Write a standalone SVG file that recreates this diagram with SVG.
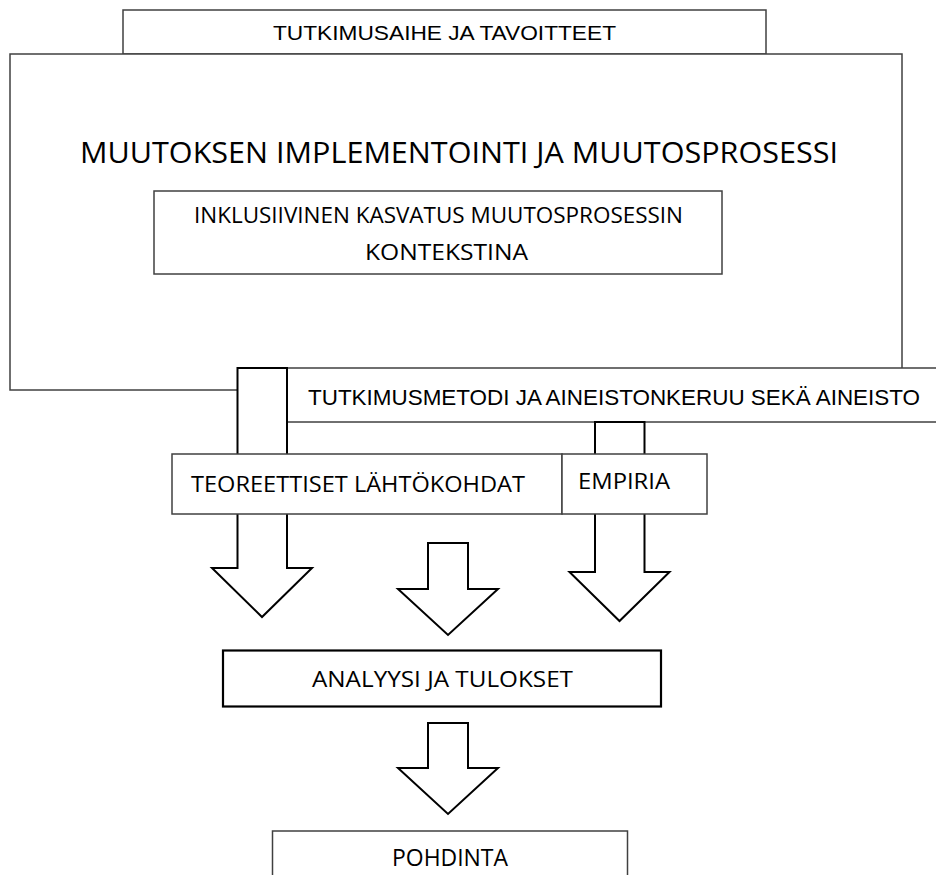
<svg xmlns="http://www.w3.org/2000/svg" width="936" height="875" viewBox="0 0 936 875">
<style>
  .box { fill: #ffffff; stroke: #404040; stroke-width: 1.5; }
  .thick { fill: #ffffff; stroke: #000000; stroke-width: 2.2; }
  .arrow { fill: #ffffff; stroke: #000000; stroke-width: 2; stroke-linejoin: miter; }
  .t { font-family: "Open Sans", "Liberation Sans", sans-serif; fill: #000000; }
  .n { font-family: "Liberation Sans Narrow", "Liberation Sans", sans-serif; fill: #000000; }
</style>
<rect width="936" height="875" fill="#ffffff"/>
<g id="node-tutkimusaihe">
  <rect class="box" x="123" y="10" width="643" height="44"/>
  <text class="n" x="273" y="39.5" font-size="19.5" textLength="343" lengthAdjust="spacingAndGlyphs">TUTKIMUSAIHE JA TAVOITTEET</text>
</g>
<g id="node-muutos">
  <rect class="box" x="10" y="54" width="892" height="336"/>
  <text class="t" x="80" y="162.5" font-size="28.5" textLength="758" lengthAdjust="spacingAndGlyphs">MUUTOKSEN IMPLEMENTOINTI JA MUUTOSPROSESSI</text>
</g>
<g id="node-inklusiivinen">
  <rect class="box" x="154" y="191" width="568" height="83"/>
  <text class="t" x="194" y="222.5" font-size="21" textLength="489" lengthAdjust="spacingAndGlyphs">INKLUSIIVINEN KASVATUS MUUTOSPROSESSIN</text>
  <text class="t" x="365" y="259.5" font-size="21" textLength="163" lengthAdjust="spacingAndGlyphs">KONTEKSTINA</text>
</g>
<g id="node-metodi">
  <rect class="box" x="287" y="368" width="660" height="54"/>
  <text class="n" x="308" y="405" font-size="22" textLength="612" lengthAdjust="spacingAndGlyphs">TUTKIMUSMETODI JA AINEISTONKERUU SEKÄ AINEISTO</text>
</g>
<g id="connectors">
  <polygon id="arrow-teoria" class="arrow" points="237.5,368 287,368 287,568 312,568 262,617 212,568 237.5,568"/>
  <polygon id="arrow-empiria" class="arrow" points="595,422 644.5,422 644.5,572 669.5,572 619.5,621 569.5,572 595,572"/>
</g>
<g id="node-teoreettiset">
  <rect class="box" x="172" y="454" width="390" height="60"/>
  <text class="t" x="191" y="491.5" font-size="21" textLength="334" lengthAdjust="spacingAndGlyphs">TEOREETTISET LÄHTÖKOHDAT</text>
</g>
<g id="node-empiria">
  <rect class="box" x="562" y="454" width="145" height="60"/>
  <text class="t" x="578" y="488.5" font-size="21" textLength="92" lengthAdjust="spacingAndGlyphs">EMPIRIA</text>
</g>
<g id="connectors-2">
  <polygon id="arrow-keski" class="arrow" points="428,543 468,543 468,589 498,589 448,635 398,589 428,589"/>
  <polygon id="arrow-ala" class="arrow" points="428,723 468,723 468,768 498,768 448,814 398,768 428,768"/>
</g>
<g id="node-analyysi">
  <rect class="thick" x="223" y="650.5" width="438" height="56"/>
  <text class="t" x="312" y="687" font-size="22.5" textLength="261" lengthAdjust="spacingAndGlyphs">ANALYYSI JA TULOKSET</text>
</g>
<g id="node-pohdinta">
  <rect class="box" x="272.5" y="831" width="355" height="60"/>
  <text class="t" x="392" y="866" font-size="24.5" textLength="116" lengthAdjust="spacingAndGlyphs">POHDINTA</text>
</g>
</svg>
